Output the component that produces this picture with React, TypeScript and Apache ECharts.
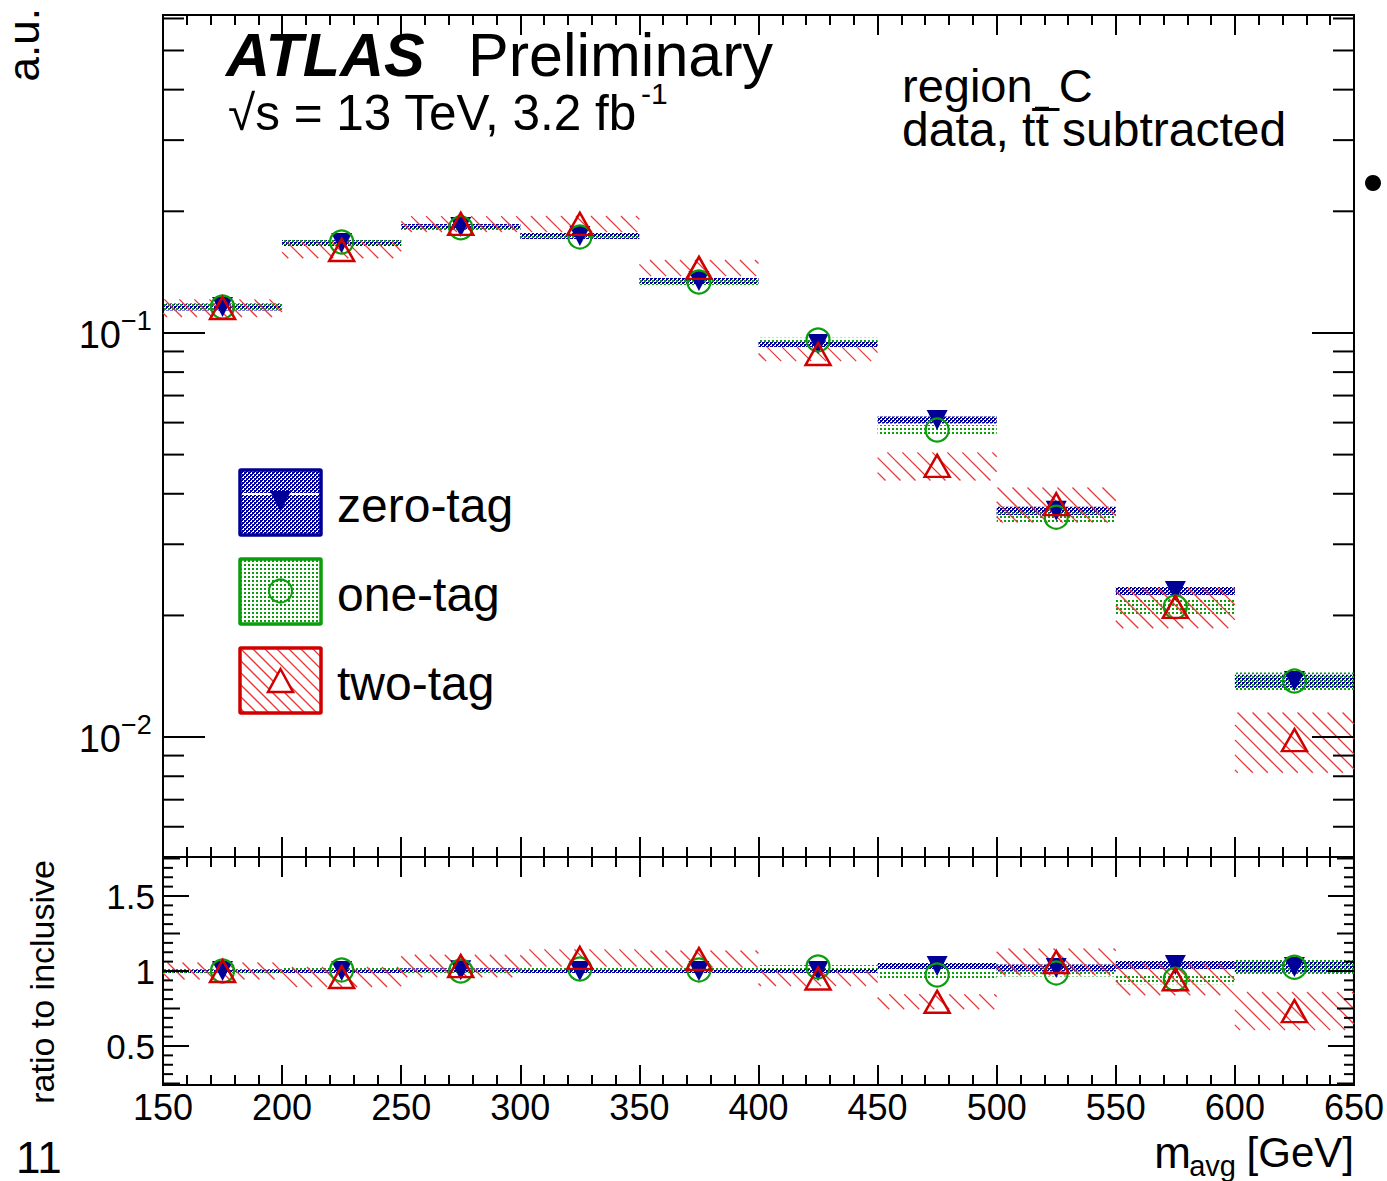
import React, { useEffect, useRef } from 'react';
import * as echarts from 'echarts';

const FONT = '"Liberation Sans", Arial, Helvetica, sans-serif';
const BLUE = '#000099';
const GREEN = '#0a9e0a';
const RED = '#d10000';
const HATCH = '#e8393a';

// ---- data ----
const binLow = [150, 200, 250, 300, 350, 400, 450, 500, 550, 600];
const binHigh = [200, 250, 300, 350, 400, 450, 500, 550, 600, 650];
const binCenter = [175, 225, 275, 325, 375, 425, 475, 525, 575, 625];

const zeroTag = [0.116, 0.167, 0.183, 0.1738, 0.1345, 0.0939, 0.0609, 0.0363, 0.023, 0.01376];
const zeroTagRelErr = [0.02, 0.017, 0.017, 0.017, 0.017, 0.017, 0.02, 0.023, 0.023, 0.037];
const oneTag = [0.116, 0.1679, 0.182, 0.1728, 0.1337, 0.0961, 0.0575, 0.035, 0.021, 0.01376];
const oneTagRelErr = [0.017, 0.017, 0.017, 0.017, 0.017, 0.012, 0.029, 0.029, 0.04, 0.05];
const twoTag = [0.1153, 0.1604, 0.1862, 0.1862, 0.1449, 0.0887, 0.0469, 0.0377, 0.021, 0.00983];
const twoTagRelErr = [0.05, 0.046, 0.045, 0.046, 0.046, 0.04, 0.08, 0.1, 0.115, 0.17];

const zeroTagRatio = [1.0, 1.0, 1.005, 1.0, 1.0, 1.0, 1.033, 1.02, 1.04, 1.027];
const zeroTagRatioErr = [0.013, 0.013, 0.013, 0.013, 0.013, 0.013, 0.02, 0.023, 0.027, 0.037];
const oneTagRatio = [1.0, 1.007, 1.0, 1.013, 1.007, 1.027, 0.973, 0.987, 0.945, 1.025];
const oneTagRatioErr = [0.013, 0.013, 0.013, 0.013, 0.013, 0.013, 0.02, 0.023, 0.033, 0.05];
const twoTagRatio = [1.0, 0.96, 1.033, 1.087, 1.08, 0.95, 0.795, 1.06, 0.945, 0.733];
const twoTagRatioErr = [0.057, 0.067, 0.075, 0.057, 0.057, 0.05, 0.05, 0.09, 0.107, 0.127];

const topAxisLabelValues = [0.01, 0.1];
const topAxisLabelBase = ['10', '10'];
const topAxisLabelExp = ['\u22122', '\u22121'];
const ratioAxisLabelValues = [0.5, 1, 1.5];
const ratioAxisLabels = ['0.5', '1', '1.5'];

const TOP_MIN = 0.00505;
const TOP_MAX = 0.612;
const RATIO_MIN = 0.24;
const RATIO_MAX = 1.76;

// ---- helpers ----
function makeTile(kind: string) {
  const c = document.createElement('canvas');
  c.width = 4;
  c.height = 4;
  const ctx = c.getContext('2d')!;
  if (kind === 'blue') {
    ctx.fillStyle = BLUE;
    ctx.fillRect(0, 0, 2, 2);
    ctx.fillRect(2, 2, 2, 2);
    ctx.fillRect(0, 2, 1, 1);
    ctx.fillRect(2, 0, 1, 1);
  } else {
    ctx.fillStyle = GREEN;
    ctx.fillRect(0, 0, 2, 2);
  }
  return { image: c.toDataURL(), repeat: 'repeat', imageWidth: 4, imageHeight: 4 };
}

function hatchLines(x0: number, y0: number, x1: number, y1: number, spacing: number, style: any) {
  const out: any[] = [];
  const cMin = Math.ceil((y0 - x1) / spacing) * spacing;
  for (let c = cMin; c <= y1 - x0; c += spacing) {
    const xs = Math.max(x0, y0 - c);
    const xe = Math.min(x1, y1 - c);
    if (xe - xs > 0.5) {
      out.push({ type: 'line', shape: { x1: xs, y1: xs + c, x2: xe, y2: xe + c }, style });
    }
  }
  return out;
}

function bandRows(vals: number[], errs: number[], relative: boolean) {
  return vals.map((v, i) => {
    const e = relative ? v * errs[i] : errs[i];
    return [binLow[i], binHigh[i], v - e, v + e];
  });
}

function App() {
  const ref = useRef<HTMLDivElement>(null);

  useEffect(() => {
    if (!ref.current) return;
    const chart = echarts.init(ref.current, undefined, { renderer: 'svg' });
    const bluePat = makeTile('blue');
    const greenPat = makeTile('green');
    const hatchStyle = { stroke: HATCH, lineWidth: 1.3 };

    const bandRender = (kind: string) => (params: any, api: any) => {
      const p0 = api.coord([api.value(0), api.value(3)]);
      const p1 = api.coord([api.value(1), api.value(2)]);
      const x0 = p0[0], y0 = p0[1], x1 = p1[0], y1 = p1[1];
      if (kind === 'red') {
        return { type: 'group', children: hatchLines(x0, y0, x1, y1, 15, hatchStyle) };
      }
      return {
        type: 'rect',
        shape: { x: x0, y: y0, width: x1 - x0, height: y1 - y0 },
        style: { fill: kind === 'blue' ? bluePat : greenPat },
      };
    };

    // tick lists
    const topTicks: number[][] = [];
    for (let d = -3; d <= -1; d++) {
      for (let m = 1; m <= 9; m++) {
        const v = m * Math.pow(10, d);
        if (v >= TOP_MIN && v <= TOP_MAX) topTicks.push([150, v, m === 1 ? 2 : 0]);
      }
    }
    const ratioTicks: number[][] = [];
    for (let k = 4; k <= 28; k++) {
      const v = k * 0.0625;
      const kind = k % 8 === 0 ? 2 : k % 4 === 0 ? 1 : 0;
      ratioTicks.push([150, v, kind]);
    }

    const tickRender = (lens: number[]) => (params: any, api: any) => {
      const v = api.value(1);
      const kind = api.value(2);
      const L = api.coord([150, v]);
      const R = api.coord([650, v]);
      const len = lens[kind];
      const st = { stroke: '#000', lineWidth: 2 };
      return {
        type: 'group',
        children: [
          { type: 'line', shape: { x1: L[0], y1: L[1], x2: L[0] + len, y2: L[1] }, style: st },
          { type: 'line', shape: { x1: R[0] - len, y1: R[1], x2: R[0], y2: R[1] }, style: st },
        ],
      };
    };

    const textStyle = (text: string, size: number, align: string, extra: any = {}) => ({
      text,
      fill: '#000',
      fontSize: size,
      fontFamily: FONT,
      align,
      verticalAlign: 'middle',
      textAlign: align,
      textVerticalAlign: 'middle',
      ...extra,
    });

    const topLabelRender = (params: any, api: any) => {
      const i = params.dataIndex;
      const P = api.coord([150, api.value(1)]);
      return {
        type: 'group',
        children: [
          { type: 'text', x: P[0] - 42, y: P[1] + 2, style: textStyle(topAxisLabelBase[i], 38, 'right') },
          { type: 'text', x: P[0] - 42, y: P[1] - 12, style: textStyle(topAxisLabelExp[i], 27, 'left') },
        ],
      };
    };
    const ratioLabelRender = (params: any, api: any) => {
      const i = params.dataIndex;
      const P = api.coord([150, api.value(1)]);
      return { type: 'text', x: P[0] - 8, y: P[1], style: textStyle(ratioAxisLabels[i], 35, 'right') };
    };

    const xTickCommon = (gridIndex: number, position: string, showLabel: boolean, major: number, minor: number) => ({
      type: 'value',
      gridIndex,
      position,
      min: 150,
      max: 650,
      interval: 50,
      axisLine: { show: false },
      splitLine: { show: false },
      axisTick: { show: true, inside: true, length: major, lineStyle: { color: '#000', width: 2 } },
      minorTick: { show: true, splitNumber: 5, length: minor, lineStyle: { color: '#000', width: 2 } },
      axisLabel: {
        show: showLabel,
        color: '#000',
        fontSize: 36,
        fontFamily: FONT,
        margin: 4,
        showMinLabel: true,
        showMaxLabel: true,
      },
    });

    const scatterCommon = {
      type: 'scatter',
      animation: false,
      z: 5,
    };

    const legendBox = (y: number, color: string, fill: any, hatch: boolean) => {
      const x = 240, w = 81, h = 65;
      const children: any[] = [];
      if (hatch) {
        children.push({ type: 'rect', shape: { x, y, width: w, height: h }, style: { fill: '#fff' } });
        hatchLines(x, y, x + w, y + h, 12, hatchStyle).forEach((l) => children.push(l));
      } else {
        children.push({ type: 'rect', shape: { x, y, width: w, height: h }, style: { fill } });
      }
      children.push({
        type: 'rect',
        shape: { x, y, width: w, height: h, r: 1 },
        style: { fill: 'none', stroke: color, lineWidth: 3.5 },
      });
      return children;
    };

    const option: any = {
      animation: false,
      backgroundColor: '#fff',
      grid: [
        { left: 163, top: 15, width: 1191, height: 842, show: true, borderColor: '#000', borderWidth: 2, backgroundColor: 'transparent' },
        { left: 163, top: 857, width: 1191, height: 228, show: true, borderColor: '#000', borderWidth: 2, backgroundColor: 'transparent' },
      ],
      xAxis: [
        xTickCommon(0, 'bottom', false, 20, 10),
        xTickCommon(0, 'top', false, 20, 10),
        xTickCommon(1, 'bottom', true, 20, 10),
        xTickCommon(1, 'top', false, 20, 10),
      ],
      yAxis: [
        {
          type: 'log', logBase: 10, gridIndex: 0, min: TOP_MIN, max: TOP_MAX,
          axisLine: { show: false }, axisTick: { show: false }, axisLabel: { show: false }, splitLine: { show: false },
        },
        {
          type: 'value', gridIndex: 1, min: RATIO_MIN, max: RATIO_MAX,
          axisLine: { show: false }, axisTick: { show: false }, axisLabel: { show: false }, splitLine: { show: false },
        },
      ],
      series: [
        // top panel bands
        { type: 'custom', name: 'zero-tag band', xAxisIndex: 0, yAxisIndex: 0, renderItem: bandRender('blue'), encode: { x: [0, 1], y: [2, 3] }, data: bandRows(zeroTag, zeroTagRelErr, true), z: 3 },
        { type: 'custom', name: 'one-tag band', xAxisIndex: 0, yAxisIndex: 0, renderItem: bandRender('green'), encode: { x: [0, 1], y: [2, 3] }, data: bandRows(oneTag, oneTagRelErr, true), z: 3 },
        { type: 'custom', name: 'two-tag band', xAxisIndex: 0, yAxisIndex: 0, renderItem: bandRender('red'), encode: { x: [0, 1], y: [2, 3] }, data: bandRows(twoTag, twoTagRelErr, true), z: 3 },
        // ratio bands
        { type: 'custom', name: 'zero-tag ratio band', xAxisIndex: 2, yAxisIndex: 1, renderItem: bandRender('blue'), encode: { x: [0, 1], y: [2, 3] }, data: bandRows(zeroTagRatio, zeroTagRatioErr, false), z: 3 },
        { type: 'custom', name: 'one-tag ratio band', xAxisIndex: 2, yAxisIndex: 1, renderItem: bandRender('green'), encode: { x: [0, 1], y: [2, 3] }, data: bandRows(oneTagRatio, oneTagRatioErr, false), z: 3 },
        { type: 'custom', name: 'two-tag ratio band', xAxisIndex: 2, yAxisIndex: 1, renderItem: bandRender('red'), encode: { x: [0, 1], y: [2, 3] }, data: bandRows(twoTagRatio, twoTagRatioErr, false), z: 3 },
        // markers top
        { ...scatterCommon, name: 'zero-tag', xAxisIndex: 0, yAxisIndex: 0, symbol: 'triangle', symbolRotate: 180, symbolSize: [21, 20], itemStyle: { color: BLUE, opacity: 1 }, data: binCenter.map((x, i) => [x, zeroTag[i]]) },
        { ...scatterCommon, name: 'one-tag', xAxisIndex: 0, yAxisIndex: 0, symbol: 'circle', symbolSize: 23, itemStyle: { color: 'rgba(0,0,0,0)', borderColor: GREEN, borderWidth: 2.2, opacity: 1 }, data: binCenter.map((x, i) => [x, oneTag[i]]) },
        { ...scatterCommon, name: 'two-tag', xAxisIndex: 0, yAxisIndex: 0, symbol: 'triangle', symbolSize: [25, 22], itemStyle: { color: 'rgba(0,0,0,0)', borderColor: RED, borderWidth: 2.5, opacity: 1 }, data: binCenter.map((x, i) => [x, twoTag[i]]) },
        // markers ratio
        { ...scatterCommon, name: 'zero-tag ratio', xAxisIndex: 2, yAxisIndex: 1, symbol: 'triangle', symbolRotate: 180, symbolSize: [21, 20], itemStyle: { color: BLUE, opacity: 1 }, data: binCenter.map((x, i) => [x, zeroTagRatio[i]]) },
        { ...scatterCommon, name: 'one-tag ratio', xAxisIndex: 2, yAxisIndex: 1, symbol: 'circle', symbolSize: 23, itemStyle: { color: 'rgba(0,0,0,0)', borderColor: GREEN, borderWidth: 2.2, opacity: 1 }, data: binCenter.map((x, i) => [x, oneTagRatio[i]]) },
        { ...scatterCommon, name: 'two-tag ratio', xAxisIndex: 2, yAxisIndex: 1, symbol: 'triangle', symbolSize: [25, 22], itemStyle: { color: 'rgba(0,0,0,0)', borderColor: RED, borderWidth: 2.5, opacity: 1 }, data: binCenter.map((x, i) => [x, twoTagRatio[i]]) },
        // axis ticks and labels
        { type: 'custom', name: 'top y ticks', xAxisIndex: 0, yAxisIndex: 0, renderItem: tickRender([21, 21, 42]), encode: { x: 0, y: 1 }, data: topTicks, z: 6, silent: true },
        { type: 'custom', name: 'ratio y ticks', xAxisIndex: 2, yAxisIndex: 1, renderItem: tickRender([10, 17, 26]), encode: { x: 0, y: 1 }, data: ratioTicks, z: 6, silent: true },
        { type: 'custom', name: 'top y labels', xAxisIndex: 0, yAxisIndex: 0, renderItem: topLabelRender, encode: { x: 0, y: 1 }, data: topAxisLabelValues.map((v) => [150, v]), z: 6, silent: true, clip: false },
        { type: 'custom', name: 'ratio y labels', xAxisIndex: 2, yAxisIndex: 1, renderItem: ratioLabelRender, encode: { x: 0, y: 1 }, data: ratioAxisLabelValues.map((v) => [150, v]), z: 6, silent: true, clip: false },
      ],
      graphic: [
        // ATLAS label
        { type: 'text', x: 226, y: 55, style: textStyle('ATLAS', 61, 'left', { fontWeight: 'bold', fontStyle: 'italic' }) },
        { type: 'text', x: 468, y: 55, style: textStyle('Preliminary', 61, 'left') },
        { type: 'text', x: 228, y: 112, style: textStyle('\u221As = 13 TeV, 3.2 fb', 49.5, 'left', { lineHeight: 38 }) },
        { type: 'text', x: 641, y: 93, style: textStyle('-1', 30, 'left', { lineHeight: 20 }) },
        { type: 'text', x: 902, y: 85, style: textStyle('region_C', 47, 'left', { lineHeight: 40 }) },
        { type: 'text', x: 902, y: 129, style: textStyle('data, tt subtracted', 48, 'left', { lineHeight: 40 }) },
        { type: 'line', shape: { x1: 1035, y1: 108, x2: 1049, y2: 108 }, style: { stroke: '#000', lineWidth: 2.5 } },
        // legend
        ...legendBox(470, BLUE, bluePat, false),
        { type: 'line', shape: { x1: 242, y1: 494, x2: 319, y2: 494 }, style: { stroke: '#fff', lineWidth: 2 } },
        { type: 'polygon', shape: { points: [[270, 491], [291, 491], [280.5, 512]] }, style: { fill: BLUE } },
        ...legendBox(559, GREEN, greenPat, false),
        { type: 'circle', shape: { cx: 280.5, cy: 591, r: 11.5 }, style: { fill: 'none', stroke: GREEN, lineWidth: 2 } },
        ...legendBox(648, RED, null, true),
        { type: 'polygon', shape: { points: [[280.5, 669], [293, 692], [268, 692]] }, style: { fill: '#fff', stroke: RED, lineWidth: 2.5 } },
        { type: 'text', x: 337, y: 505, style: textStyle('zero-tag', 48, 'left') },
        { type: 'text', x: 337, y: 594, style: textStyle('one-tag', 48, 'left') },
        { type: 'text', x: 337, y: 683, style: textStyle('two-tag', 48, 'left') },
        // axis titles
        { type: 'text', x: 23, y: 8, rotation: Math.PI / 2, style: textStyle('a.u.', 44, 'right') },
        { type: 'text', x: 42, y: 860, rotation: Math.PI / 2, style: textStyle('ratio to inclusive', 34, 'right') },
        { type: 'text', x: 1354, y: 1152, style: textStyle('[GeV]', 42, 'right') },
        { type: 'text', x: 1236, y: 1166, style: textStyle('avg', 29, 'right') },
        { type: 'text', x: 1191, y: 1152, style: textStyle('m', 44, 'right') },
        { type: 'text', x: 16, y: 1157, style: textStyle('11', 44, 'left') },
        { type: 'circle', shape: { cx: 1373, cy: 183, r: 8 }, style: { fill: '#000' } },
      ],
    };

    chart.setOption(option);
    return () => chart.dispose();
  }, []);

  return (
    <div
      ref={ref}
      style={{ position: 'fixed', left: 0, top: 0, width: 1387, height: 1181, background: '#fff' }}
    />
  );
}

export default App;
